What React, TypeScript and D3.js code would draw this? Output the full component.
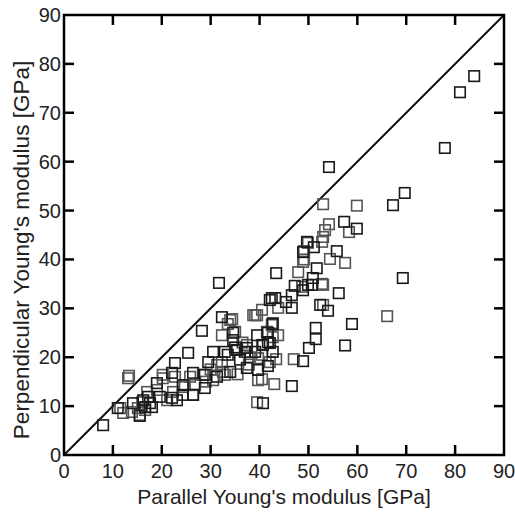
import React from "react";
import * as d3 from "d3";

const xTicks = [0, 10, 20, 30, 40, 50, 60, 70, 80, 90];
const yTicks = [0, 10, 20, 30, 40, 50, 60, 70, 80, 90];

// darker markers
const seriesDark: [number, number][] = [
  [83.9, 77.5], [81.0, 74.2], [77.9, 62.8], [54.2, 58.9], [69.7, 53.6], [67.3, 51.1],
  [57.3, 47.7], [59.9, 46.3], [51.1, 42.5], [55.8, 41.7], [69.3, 36.2], [56.2, 33.1],
  [58.9, 26.8], [57.5, 22.4], [54.0, 29.5], [51.5, 26.0], [51.5, 23.7], [50.1, 21.9],
  [48.9, 19.2], [46.6, 14.1], [40.7, 10.6], [31.7, 35.2], [28.2, 25.4], [25.4, 20.9],
  [8.0, 6.1], [47.2, 34.6], [48.9, 33.7], [50.7, 34.8], [43.2, 32.1], [45.4, 31.3],
  [46.6, 30.1], [42.1, 31.7], [52.4, 30.7], [42.7, 26.8], [41.7, 23.1], [42.7, 21.1],
  [41.7, 18.2], [43.4, 37.2], [51.7, 38.2], [48.9, 41.5], [49.7, 43.6], [50.9, 36.2],
  [49.9, 34.8], [46.6, 32.7], [40.7, 22.5], [32.3, 28.2], [34.6, 25.0], [30.5, 21.1],
  [32.9, 21.1], [35.4, 21.5], [37.4, 21.9], [39.1, 21.1], [42.1, 22.9], [29.5, 19.0],
  [37.4, 17.8], [39.7, 17.4], [26.4, 16.8], [31.3, 16.0], [24.3, 14.3], [28.8, 13.7],
  [24.3, 12.3], [22.7, 18.8], [22.1, 11.7], [11.0, 9.6], [14.1, 10.6], [15.5, 8.0],
  [16.6, 9.8], [16.2, 11.2], [17.2, 11.9], [19.6, 11.9], [22.1, 16.8], [17.6, 10.6],
  [33.5, 20.5], [34.6, 23.5], [37.0, 21.1], [39.5, 24.5], [23.1, 11.2], [26.4, 12.3],
  [28.8, 16.4], [18.0, 9.8], [19.0, 14.7], [36.0, 19.5], [35.0, 22.0], [34.0, 17.0],
  [42.5, 32.1], [41.7, 25.0],
];

// lighter markers
const seriesLight: [number, number][] = [
  [53.0, 51.3], [59.9, 51.0], [54.2, 47.2], [58.3, 45.6], [53.4, 46.0], [53.0, 44.6],
  [49.9, 43.4], [49.1, 41.7], [52.8, 43.6], [54.4, 40.1], [57.5, 39.3], [53.0, 30.7],
  [66.1, 28.4], [47.0, 19.6], [43.0, 14.5], [39.5, 10.8], [13.1, 15.7], [13.3, 16.2],
  [52.8, 35.0], [43.8, 30.1], [40.5, 29.7], [43.8, 24.5], [43.4, 19.6], [40.5, 20.5],
  [40.5, 15.5], [47.9, 37.4], [48.9, 39.5], [48.7, 34.4], [53.0, 34.8], [39.5, 28.6],
  [42.5, 26.6], [41.5, 25.2], [39.7, 19.8], [39.7, 15.3], [49.1, 40.0], [34.4, 27.8],
  [33.5, 26.8], [32.3, 24.5], [42.7, 27.0], [40.5, 22.5], [32.3, 19.0], [42.1, 19.0],
  [28.4, 16.4], [32.9, 16.4], [26.8, 14.3], [26.4, 12.3], [22.7, 16.0], [38.7, 28.6],
  [42.7, 24.1], [12.1, 8.6], [13.9, 8.8], [15.1, 9.6], [19.0, 13.3], [21.1, 11.2],
  [20.2, 15.7], [16.6, 9.2], [24.3, 13.9], [30.5, 15.3], [31.3, 18.4], [32.5, 17.0],
  [35.0, 25.2], [34.0, 27.6], [37.4, 22.5], [39.1, 28.6], [24.7, 14.3], [22.3, 12.9],
  [25.8, 16.0], [15.5, 8.2], [11.5, 9.6], [20.2, 16.4], [17.0, 12.9], [16.0, 10.8],
  [38.0, 20.0], [36.5, 23.0], [37.8, 18.5], [30.0, 17.5], [29.0, 15.0], [35.5, 16.5],
];

const W = 515;
const H = 513;
const M = { left: 64, right: 11, top: 15, bottom: 58 };

export default function App() {
  const x = d3.scaleLinear().domain([0, 90]).range([M.left, W - M.right]);
  const y = d3.scaleLinear().domain([0, 90]).range([H - M.bottom, M.top]);
  const [x0, x1] = x.range();
  const [y0, y1] = y.range();
  const tickLen = 10;
  const s = 10.5;
  const font = "Liberation Sans, Arial, sans-serif";
  const line = d3.line<[number, number]>().x((d) => x(d[0])).y((d) => y(d[1]));

  const marks = (data: [number, number][], color: string, key: string) =>
    data.map((d, i) => (
      <rect
        key={key + i}
        x={x(d[0]) - s / 2}
        y={y(d[1]) - s / 2}
        width={s}
        height={s}
        fill="none"
        stroke={color}
        strokeWidth={1.6}
      />
    ));

  return (
    <svg
      width={W}
      height={H}
      style={{ position: "absolute", left: 0, top: 0, display: "block", background: "#fff" }}
    >
      <path d={line([[0, 0], [90, 90]]) || ""} stroke="#111" strokeWidth={2} fill="none" />
      {marks(seriesLight, "#555", "l")}
      {marks(seriesDark, "#1a1a1a", "d")}
      {xTicks.slice(1, -1).map((t) => (
        <g key={"xt" + t}>
          <line x1={x(t)} x2={x(t)} y1={y0} y2={y0 - tickLen} stroke="#000" strokeWidth={2.5} />
          <line x1={x(t)} x2={x(t)} y1={y1} y2={y1 + tickLen} stroke="#000" strokeWidth={2.5} />
        </g>
      ))}
      {yTicks.slice(1, -1).map((t) => (
        <g key={"yt" + t}>
          <line x1={x0} x2={x0 + tickLen} y1={y(t)} y2={y(t)} stroke="#000" strokeWidth={2.5} />
          <line x1={x1} x2={x1 - tickLen} y1={y(t)} y2={y(t)} stroke="#000" strokeWidth={2.5} />
        </g>
      ))}
      <rect x={x0} y={y1} width={x1 - x0} height={y0 - y1} fill="none" stroke="#000" strokeWidth={2.5} />
      {xTicks.map((t) => (
        <text key={"xl" + t} x={x(t)} y={y0 + 23} textAnchor="middle" fontFamily={font} fontSize={20} fill="#222">
          {t}
        </text>
      ))}
      {yTicks.map((t) => (
        <text key={"yl" + t} x={x0 - 3} y={y(t) + 7} textAnchor="end" fontFamily={font} fontSize={20} fill="#222">
          {t}
        </text>
      ))}
      <text x={(x0 + x1) / 2} y={504} textAnchor="middle" fontFamily={font} fontSize={21} fill="#222">
        Parallel Young's modulus [GPa]
      </text>
      <text
        transform={`translate(29, 250) rotate(-90)`}
        textAnchor="middle"
        fontFamily={font}
        fontSize={22.5}
        fill="#222"
      >
        Perpendicular Young's modulus [GPa]
      </text>
    </svg>
  );
}
